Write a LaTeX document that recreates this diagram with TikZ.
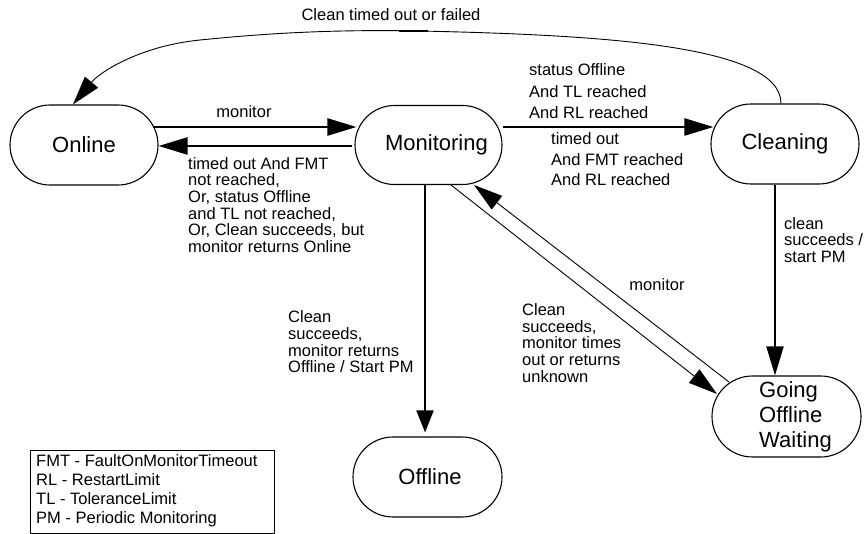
\documentclass[tikz,border=0pt]{standalone}
\usepackage{fontspec}
\setmainfont{Liberation Sans}
\usetikzlibrary{arrows.meta,shapes.misc,calc}
\begin{document}
\begin{tikzpicture}[x=1pt,y=-1pt,
  state/.style={rounded rectangle, draw, line width=1.1pt, minimum width=148pt, minimum height=80pt, inner sep=0pt, font=\fontsize{22}{25}\selectfont, align=left},
  lbl/.style={font=\fontsize{16.5}{16.7}\selectfont, align=left, inner sep=0pt},
  tipA/.style={-{Triangle[length=29pt,width=17pt]}},
  heavy/.style={tipA, line width=2.4pt},
  medium/.style={tipA, line width=2pt},
  light/.style={tipA, line width=0.9pt}
]
\useasboundingbox (0,0) rectangle (868,534);

% states
\node[state] (Online) at (84,145) {Online};
\node[state, minimum width=147pt, minimum height=79pt] (Monitoring) at (428.5,145) {\hspace*{16pt}Monitoring};
\node[state] (Cleaning) at (785,144) {Cleaning};
\node[state, minimum width=149pt] (Offline) at (427.5,477) {\hspace*{5pt}Offline};
\node[state, minimum width=149pt, minimum height=81pt] (Going) at (786.5,416.5) {\hspace*{18pt}Going\\\hspace*{18pt}Offline\\\hspace*{18pt}Waiting};

% legend
\node[draw, line width=1.2pt, anchor=north west, minimum width=244pt, minimum height=83pt, inner sep=0pt] (legend) at (30,450) {};
\node[lbl, font=\fontsize{16.5}{19}\selectfont, anchor=west] (legendtext) at (36,491) {FMT - FaultOnMonitorTimeout\\RL - RestartLimit\\TL - ToleranceLimit\\PM - Periodic Monitoring};

% horizontal connectors
\draw[heavy] ($(Online.east)+(-6,-18)$) -- ($(Monitoring.west)+(2,-18)$);
\draw[heavy] ($(Monitoring.west)+(-2,1)$) -- ($(Online.east)+(0,1)$);
\draw[heavy] ($(Monitoring.east)+(0,-18)$) -- ($(Cleaning.west)+(3,-17)$);

% vertical connectors
\draw[medium, -{Triangle[length=22pt,width=17pt]}] ($(Monitoring.south)+(-3.5,0)$) -- ($(Offline.north)+(-2.5,-4)$);
\draw[medium] ($(Cleaning.south)+(-10,0)$) -- ($(Going.north)+(-11.5,0)$);

% diagonal connectors
\coordinate (d1s) at (451,185);
\coordinate (d1e) at (717,394);
\coordinate (d2s) at (729,382);
\coordinate (d2e) at (474,185);
\draw[light] (d1s) -- (d1e);
\draw[light] (d2s) -- (d2e);

% top arc
\draw[light] ($(Cleaning.north)+(-4,0)$) .. controls (781,45) and (600,35) .. (420,31)
  .. controls (320,29) and (250,35) .. (200,40)
  .. controls (140,46) and (100,72) .. ($(Online.north)+(-11,0)$);
\draw[line width=2.4pt] (399,31) -- (428,31);

% labels
\node[lbl] (l1) at (391,15) {Clean timed out or failed};
\node[lbl] (l2) at (244,112) {monitor};
\node[lbl, anchor=west] (l3) at (188,205) {timed out And FMT\\not reached,\\Or, status Offline\\and TL not reached,\\Or, Clean succeeds, but\\monitor returns Online};
\node[lbl, font=\fontsize{16.5}{21.5}\selectfont, anchor=west] (l4) at (529,91.5) {status Offline\\And TL reached\\And RL reached};
\node[lbl, font=\fontsize{16.5}{20.5}\selectfont, anchor=west] (l5) at (551,159.5) {timed out\\And FMT reached\\And RL reached};
\node[lbl, anchor=west] (l6) at (784,240) {clean\\succeeds /\\start PM};
\node[lbl, anchor=west] (l7) at (288,342) {Clean\\succeeds,\\monitor returns\\Offline / Start PM};
\node[lbl] (l8) at (657,285) {monitor};
\node[lbl, anchor=west] (l9) at (522,343) {Clean\\succeeds,\\monitor times\\out or returns\\unknown};
\end{tikzpicture}
\end{document}
